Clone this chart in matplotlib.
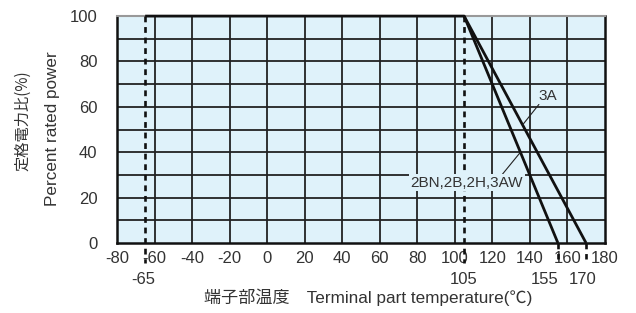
import matplotlib
matplotlib.use('Agg')
import matplotlib.pyplot as plt

# Curve data
temp_3a = [-65, 105, 170]
power_3a = [100, 100, 0]
temp_2bn = [105, 155]
power_2bn = [100, 0]

# Special temperatures marked with dashed lines
long_marks = [-65, 105]
short_marks = [155, 170]
mark_labels = ['-65', '105', '155', '170']
mark_pos = [-65, 105, 155, 170]
# small horizontal nudges (data units) so 155 and 170 don't collide
mark_nudge = [-1, 0, -7, -2]

x_ticks = list(range(-80, 181, 20))
y_ticks = list(range(0, 101, 20))

txt = '#333333'
latin = ['Liberation Sans', 'Noto Sans CJK JP']
cjk = ['Noto Sans CJK JP', 'Liberation Sans']

fig = plt.figure(figsize=(6.36, 3.13), dpi=100)
ax = fig.add_axes([0.184, 0.2236, 0.767, 0.725])
ax.set_facecolor('#dff2fa')
ax.set_xlim(-80, 180)
ax.set_ylim(0, 100)

# grid
for x in range(-60, 180, 20):
    ax.axvline(x, color='#222222', lw=1.3, zorder=1)
for y in range(10, 100, 10):
    ax.axhline(y, color='#222222', lw=1.3, zorder=1)

for s in ['left', 'bottom', 'right']:
    ax.spines[s].set_color('#111111')
    ax.spines[s].set_linewidth(1.8)
ax.spines['top'].set_color('#999999')
ax.spines['top'].set_linewidth(1.5)

# dashed marker lines
dash = (0, (2.2, 1.8))
for x in long_marks:
    ax.plot([x, x], [100, -9], color='#111111', lw=1.9, ls=dash,
            clip_on=False, zorder=3)
for x in short_marks:
    ax.plot([x, x], [0, -7], color='#111111', lw=1.9, ls=dash,
            clip_on=False, zorder=3)

# derating curves
ax.plot(temp_3a, power_3a, color='#111111', lw=2.0, zorder=4, clip_on=False,
        solid_capstyle='butt')
ax.plot(temp_2bn, power_2bn, color='#111111', lw=2.0, zorder=4, clip_on=False,
        solid_capstyle='butt')

# labels with leader lines
ax.plot([144.8, 136.3], [61, 52.2], color='#222222', lw=0.8, zorder=4)
ax.text(149.5, 65, '3A', ha='center', va='center', fontsize=11, color=txt,
        family=latin, zorder=5,
        bbox=dict(boxstyle='square,pad=0.1', fc='#dff2fa', ec='none'))
ax.plot([125.1, 135], [30, 40], color='#222222', lw=0.8, zorder=4)
ax.text(106.5, 26.5, '2BN,2B,2H,3AW', ha='center', va='center', fontsize=11,
        color=txt, family=latin, zorder=5,
        bbox=dict(boxstyle='square,pad=0.1', fc='#dff2fa', ec='none'))

ax.set_xticks(x_ticks)
ax.set_xticklabels([str(v) for v in x_ticks], family=latin)
ax.set_yticks(y_ticks)
ax.set_yticklabels([str(v) for v in y_ticks], family=latin)
ax.tick_params(axis='both', length=0, labelsize=12, colors=txt)
ax.tick_params(axis='x', pad=6)
ax.tick_params(axis='y', pad=14)

for p, dx, lab in zip(mark_pos, mark_nudge, mark_labels):
    ax.text(p + dx, -16.2, lab, ha='center', va='center', fontsize=12,
            color=txt, family=latin)

fig.text(0.036, 0.613, '定格電力比(%)', rotation=90, ha='center', va='center',
         fontsize=11, color=txt, family=cjk)
fig.text(0.082, 0.59, 'Percent rated power', rotation=90, ha='center',
         va='center', fontsize=12.3, color=txt, family=latin)
fig.text(0.579, 0.05, '端子部温度\u3000Terminal part temperature(℃)',
         ha='center', va='center', fontsize=12.3, color=txt, family=latin)

fig.savefig('out.png', dpi=100)
